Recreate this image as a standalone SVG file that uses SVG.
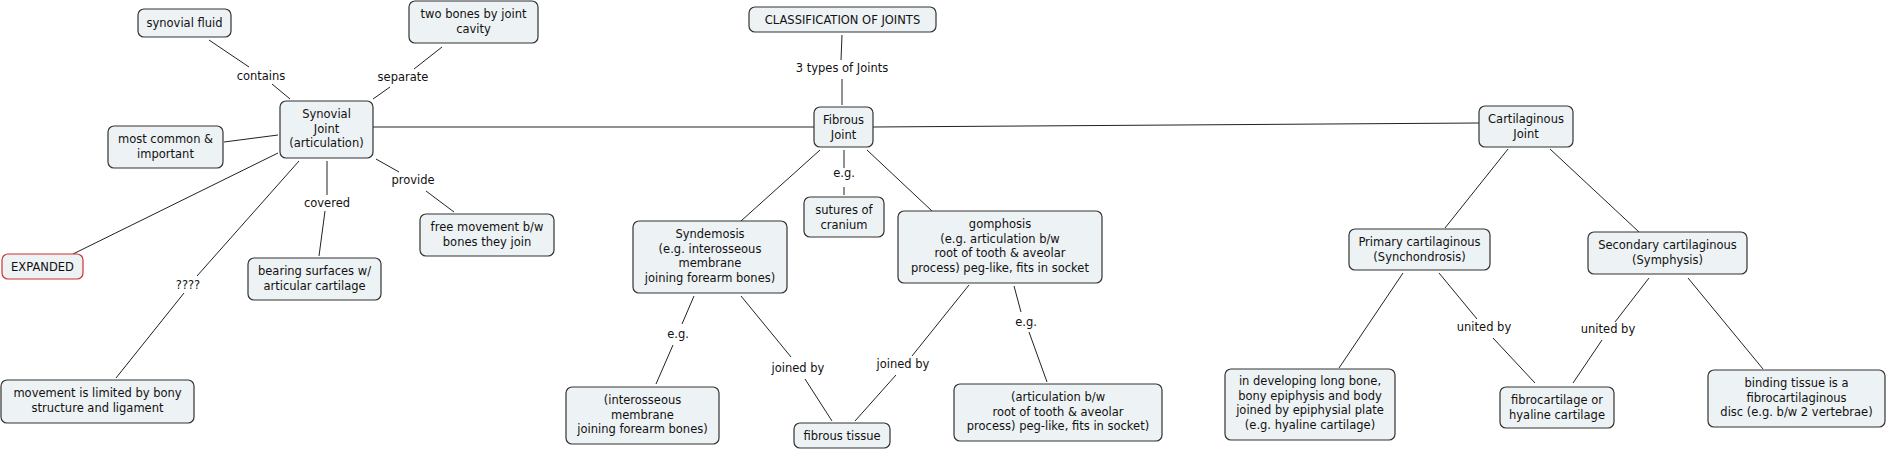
<svg xmlns="http://www.w3.org/2000/svg" width="1887" height="450" viewBox="0 0 1887 450">
<style>
.n rect{fill:#edf2f4;stroke:#333;stroke-width:1.2}
.n.red rect{stroke:#d0302f}
text{font-family:"DejaVu Sans",Verdana,sans-serif;font-size:11.5px;fill:#111;text-anchor:middle}
.c line{stroke:#222;stroke-width:1}
</style>
<rect width="1887" height="450" fill="#fff"/>
<g class="c">
<line x1="209" y1="40" x2="249" y2="67"/><line x1="272" y1="84" x2="290" y2="99"/>
<line x1="442" y1="47" x2="414" y2="69"/><line x1="390" y1="87" x2="373" y2="99"/>
<line x1="224" y1="142" x2="278" y2="135"/>
<line x1="73" y1="254" x2="278" y2="153"/>
<line x1="299" y1="161" x2="197" y2="276"/><line x1="184" y1="293" x2="116" y2="378"/>
<line x1="327" y1="161" x2="327" y2="195"/><line x1="325" y1="211" x2="319" y2="256"/>
<line x1="376" y1="159" x2="399" y2="172"/><line x1="426" y1="191" x2="454" y2="212"/>
<line x1="373" y1="127" x2="814" y2="127"/>
<line x1="842" y1="35" x2="841" y2="60"/><line x1="842" y1="79" x2="842" y2="105"/>
<line x1="844" y1="150" x2="844" y2="168"/><line x1="844" y1="187" x2="844" y2="195"/>
<line x1="820" y1="150" x2="741" y2="221"/><line x1="867" y1="150" x2="932" y2="211"/>
<line x1="694" y1="296" x2="682" y2="324"/><line x1="673" y1="345" x2="656" y2="384"/>
<line x1="741" y1="296" x2="791" y2="357"/><line x1="805" y1="379" x2="832" y2="421"/>
<line x1="969" y1="285" x2="912" y2="356"/><line x1="896" y1="375" x2="855" y2="421"/>
<line x1="1014" y1="286" x2="1021" y2="312"/><line x1="1029" y1="332" x2="1047" y2="382"/>
<line x1="873" y1="127" x2="1479" y2="123"/>
<line x1="1508" y1="149" x2="1445" y2="228"/><line x1="1550" y1="149" x2="1639" y2="232"/>
<line x1="1403" y1="273" x2="1339" y2="368"/>
<line x1="1439" y1="273" x2="1477" y2="319"/><line x1="1493" y1="338" x2="1535" y2="383"/>
<line x1="1649" y1="278" x2="1615" y2="322"/><line x1="1602" y1="340" x2="1573" y2="383"/>
<line x1="1688" y1="278" x2="1763" y2="369"/>
</g>
<g class="l">
<text x="261" y="80">contains</text>
<text x="403" y="81">separate</text>
<text x="413" y="184">provide</text>
<text x="327" y="207">covered</text>
<text x="188" y="289">????</text>
<text x="842" y="72">3 types of Joints</text>
<text x="844" y="177">e.g.</text>
<text x="678" y="338">e.g.</text>
<text x="798" y="372">joined by</text>
<text x="903" y="368">joined by</text>
<text x="1026" y="326">e.g.</text>
<text x="1484" y="331">united by</text>
<text x="1608" y="333">united by</text>
</g>
<g id="synovial-fluid" class="n"><rect x="138" y="9" width="93" height="28" rx="6"/><text x="184.5" y="27">synovial fluid</text></g>
<g id="two-bones" class="n"><rect x="409" y="1" width="129" height="42" rx="6"/><text x="473.5" y="18">two bones by joint</text><text x="473.5" y="32.5">cavity</text></g>
<g id="synovial-joint" class="n"><rect x="280" y="101" width="93" height="57" rx="6"/><text x="326.5" y="118">Synovial</text><text x="326.5" y="132.5">Joint</text><text x="326.5" y="147">(articulation)</text></g>
<g id="most-common" class="n"><rect x="108" y="126" width="115" height="42" rx="6"/><text x="165.5" y="143">most common &amp;</text><text x="165.5" y="157.5">important</text></g>
<g id="expanded" class="n red"><rect x="2" y="254" width="81" height="25" rx="6"/><text x="42.5" y="270.5">EXPANDED</text></g>
<g id="movement-limited" class="n"><rect x="1" y="380" width="193" height="43" rx="6"/><text x="97.5" y="397">movement is limited by bony</text><text x="97.5" y="411.5">structure and ligament</text></g>
<g id="bearing-surfaces" class="n"><rect x="248" y="258" width="133" height="42" rx="6"/><text x="314.5" y="275">bearing surfaces w/</text><text x="314.5" y="289.5">articular cartilage</text></g>
<g id="free-movement" class="n"><rect x="420" y="214" width="134" height="42" rx="6"/><text x="487" y="231">free movement b/w</text><text x="487" y="245.5">bones they join</text></g>
<g id="classification" class="n"><rect x="749" y="7" width="187" height="25" rx="6"/><text x="842.5" y="23.5">CLASSIFICATION OF JOINTS</text></g>
<g id="fibrous-joint" class="n"><rect x="814" y="107" width="59" height="40" rx="6"/><text x="843.5" y="124">Fibrous</text><text x="843.5" y="138.5">Joint</text></g>
<g id="sutures" class="n"><rect x="804" y="197" width="80" height="40" rx="6"/><text x="844" y="214">sutures of</text><text x="844" y="228.5">cranium</text></g>
<g id="syndemosis" class="n"><rect x="633" y="221" width="154" height="72" rx="6"/><text x="710" y="238">Syndemosis</text><text x="710" y="252.5">(e.g. interosseous</text><text x="710" y="267">membrane</text><text x="710" y="281.5">joining forearm bones)</text></g>
<g id="gomphosis" class="n"><rect x="898" y="211" width="204" height="72" rx="6"/><text x="1000" y="228">gomphosis</text><text x="1000" y="242.5">(e.g. articulation b/w</text><text x="1000" y="257">root of tooth &amp; aveolar</text><text x="1000" y="271.5">process) peg-like, fits in socket</text></g>
<g id="interosseous" class="n"><rect x="566" y="387" width="153" height="57" rx="6"/><text x="642.5" y="404">(interosseous</text><text x="642.5" y="418.5">membrane</text><text x="642.5" y="433">joining forearm bones)</text></g>
<g id="fibrous-tissue" class="n"><rect x="794" y="423" width="96" height="25" rx="6"/><text x="842" y="439.5">fibrous tissue</text></g>
<g id="articulation" class="n"><rect x="954" y="384" width="208" height="57" rx="6"/><text x="1058" y="401">(articulation b/w</text><text x="1058" y="415.5">root of tooth &amp; aveolar</text><text x="1058" y="430">process) peg-like, fits in socket)</text></g>
<g id="cartilaginous-joint" class="n"><rect x="1479" y="106" width="94" height="41" rx="6"/><text x="1526" y="123">Cartilaginous</text><text x="1526" y="137.5">Joint</text></g>
<g id="primary" class="n"><rect x="1349" y="229" width="141" height="41" rx="6"/><text x="1419.5" y="246">Primary cartilaginous</text><text x="1419.5" y="260.5">(Synchondrosis)</text></g>
<g id="secondary" class="n"><rect x="1588" y="232" width="159" height="42" rx="6"/><text x="1667.5" y="249">Secondary cartilaginous</text><text x="1667.5" y="263.5">(Symphysis)</text></g>
<g id="developing" class="n"><rect x="1225" y="369" width="170" height="71" rx="6"/><text x="1310" y="385">in developing long bone,</text><text x="1310" y="399.5">bony epiphysis and body</text><text x="1310" y="414">joined by epiphysial plate</text><text x="1310" y="428.5">(e.g. hyaline cartilage)</text></g>
<g id="fibrocartilage" class="n"><rect x="1500" y="387" width="114" height="41" rx="6"/><text x="1557" y="404">fibrocartilage or</text><text x="1557" y="418.5">hyaline cartilage</text></g>
<g id="binding" class="n"><rect x="1708" y="370" width="177" height="57" rx="6"/><text x="1796.5" y="387">binding tissue is a</text><text x="1796.5" y="401.5">fibrocartilaginous</text><text x="1796.5" y="416">disc (e.g. b/w 2 vertebrae)</text></g>
</svg>
